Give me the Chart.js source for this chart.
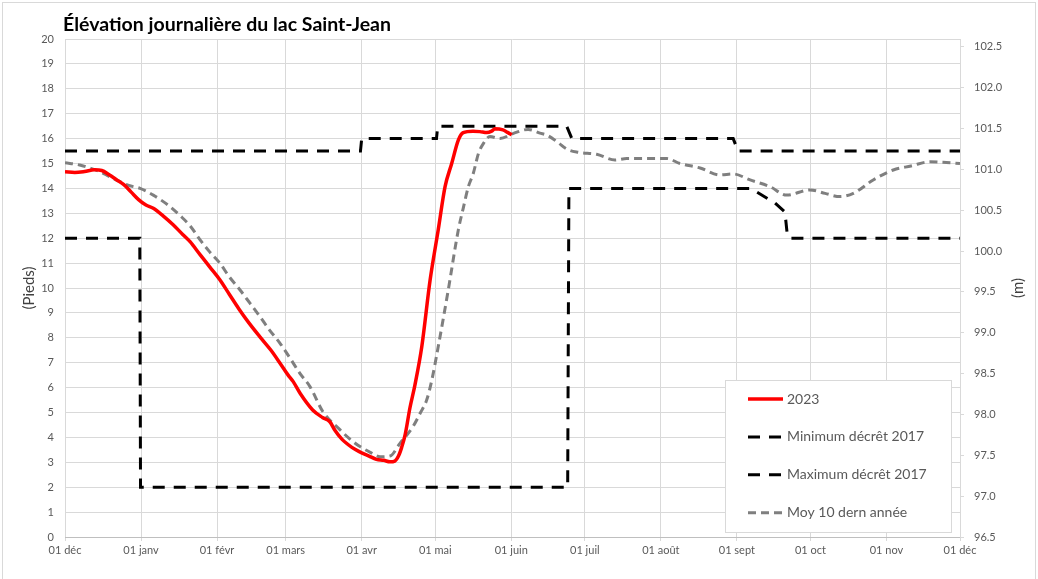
<!DOCTYPE html>
<html lang="fr">
  <head>
    <meta charset="UTF-8" />
    <title>Élévation journalière du lac Saint-Jean</title>
    <script src="https://cdn.jsdelivr.net/npm/chart.js"></script>
    <style>
      body {
        margin: 0;
        background: #ffffff;
      }
      canvas {
        display: block;
      }
    </style>
  </head>
  <body>
    <canvas id="lac" width="1038" height="579"></canvas>

    <script>
      const titre = "Élévation journalière du lac Saint-Jean";

      // axe des x : jours depuis le 1er décembre
      const moisJours = [0, 31, 62, 90, 121, 151, 182, 212, 243, 274, 304, 335, 365];
      const moisEtiquettes = [
        "01 déc", "01 janv", "01 févr", "01 mars", "01 avr", "01 mai", "01 juin",
        "01 juil", "01 août", "01 sept", "01 oct", "01 nov", "01 déc",
      ];

      // axe de droite (m)
      const metresTicks = [96.5, 97, 97.5, 98, 98.5, 99, 99.5, 100, 100.5, 101, 101.5, 102, 102.5];

      // 2023 (pieds)
      const jours2023 = [
        0, 4, 8, 12, 15, 18, 21, 24, 27, 30, 33, 36, 40, 44, 48, 51, 55, 59, 63, 67,
        71, 75, 79.5, 84, 87.7, 91, 93, 96, 101, 105, 108, 110, 113, 117, 120, 124,
        127, 130, 132.5, 134.5, 136, 137.3, 138.7, 140.7, 142.7, 145.5, 148.9, 152.2,
        155, 157.7, 160.4, 162.4, 166.4, 169.2, 172, 174, 175.4, 178.6, 180.5, 182.2,
      ];
      const niveau2023 = [
        14.67, 14.64, 14.68, 14.75, 14.72, 14.55, 14.35, 14.15, 13.85, 13.55, 13.33,
        13.2, 12.9, 12.55, 12.15, 11.86, 11.35, 10.85, 10.35, 9.75, 9.15, 8.6, 8.04,
        7.5, 6.98, 6.5, 6.25, 5.75, 5.1, 4.8, 4.63, 4.3, 3.92, 3.6, 3.43, 3.25, 3.12,
        3.08, 3.02, 3.05, 3.25, 3.6, 4.1, 5.2, 6.1, 7.64, 10.32, 12.33, 14.07, 15.0,
        15.94, 16.24, 16.3, 16.28, 16.24, 16.3, 16.4, 16.35, 16.25, 16.15,
      ];

      // Minimum décrêt 2017
      const joursMin = [0, 30.5, 30.8, 205, 205.5, 279.4, 281.4, 289.6, 293.6, 294.6, 295.8, 365];
      const niveauMin = [12, 12, 2, 2, 14, 14, 13.9, 13.41, 13.05, 12.1, 12, 12];

      // Maximum décrêt 2017
      const joursMax = [0, 120.5, 121, 151.5, 152, 204.6, 206.7, 272.5, 274.5, 365];
      const niveauMax = [15.5, 15.5, 16, 16, 16.5, 16.5, 16, 16, 15.5, 15.5];

      // Moy 10 dern année
      const joursMoy = [
        0, 6, 10, 14.3, 18, 22.4, 26, 30.6, 36, 42.8, 47, 51, 55.1, 59, 63.2, 67, 71.4,
        75.5, 79.5, 83.5, 87.7, 92, 95.8, 99.9, 105.2, 112.2, 116, 120.3, 124.5, 128.5,
        132.5, 136.6, 141.9, 145, 147.5, 149.6, 152.2, 156.3, 160.4, 162.4, 164.5, 166.5,
        168.6, 170.6, 173.3, 177.4, 182.7, 188.9, 193.7, 196.5, 201, 204.6, 209.3, 216.8,
        224.3, 229.1, 237.2, 245.4, 250.8, 259, 267.1, 272.5, 279.4, 287.5, 294.3, 303.8,
        310, 316, 321.5, 329.6, 337.8, 345, 352.8, 358, 365,
      ];
      const niveauMoy = [
        15.03, 14.94, 14.82, 14.67, 14.48, 14.27, 14.12, 14.0, 13.73, 13.27, 12.9, 12.5,
        11.93, 11.45, 10.99, 10.45, 9.92, 9.38, 8.85, 8.3, 7.78, 7.15, 6.57, 6.04, 5.03,
        4.3, 3.95, 3.63, 3.4, 3.22, 3.25, 3.76, 4.43, 5.0, 5.5, 6.3, 7.64, 9.92, 12.33,
        13.2, 14.07, 14.6, 15.4, 15.8, 16.08, 16.0, 16.2, 16.37, 16.22, 16.14, 15.85,
        15.58, 15.45, 15.37, 15.14, 15.2, 15.2, 15.2, 15.0, 14.82, 14.54, 14.58, 14.34,
        14.07, 13.73, 13.94, 13.8, 13.67, 13.8, 14.34, 14.74, 14.9, 15.07, 15.05, 15.0,
      ];

      // 20 pi = 6,096 m au-dessus de 96,5 m
      const metresMin = 96.5;
      const metresMax = 96.5 + 20 * 0.3048;

      const gris = "#595959";
      const grille = "#d9d9d9";
      const police = "Lato, 'Open Sans', sans-serif";

      const points = (xs, ys) => xs.map((x, i) => ({ x: x, y: ys[i] }));

      // cadre, titre et "(m)"
      const habillage = {
        id: "habillage",
        beforeDraw(chart) {
          const c = chart.ctx;
          c.save();
          c.fillStyle = "#ffffff";
          c.fillRect(0, 0, chart.width, chart.height);
          c.strokeStyle = grille;
          c.lineWidth = 1;
          c.strokeRect(2.5, 2.5, chart.width - 5, chart.height + 5);
          c.restore();
        },
        afterDraw(chart) {
          const c = chart.ctx;
          const a = chart.chartArea;
          c.save();
          c.fillStyle = "#000000";
          c.font = "bold 19.5px " + police;
          c.textBaseline = "middle";
          c.fillText(titre, a.left - 2, 25);

          c.translate(1018, (a.top + a.bottom) / 2);
          c.rotate(-Math.PI / 2);
          c.textAlign = "center";
          c.font = "15px " + police;
          c.fillStyle = "#404040";
          c.fillText("(m)", 0, 0);
          c.restore();
        },
      };

      // légende encadrée dans la zone du graphique
      const legendeBoite = {
        id: "legendeBoite",
        afterDraw(chart) {
          const c = chart.ctx;
          const a = chart.chartArea;
          const w = 226, h = 152;
          const x0 = a.right - 9 - w;
          const y0 = a.bottom - 5 - h;
          c.save();
          c.fillStyle = "#ffffff";
          c.fillRect(x0, y0, w, h);
          c.strokeStyle = grille;
          c.lineWidth = 1;
          c.strokeRect(Math.round(x0) + 0.5, Math.round(y0) + 0.5, w, h);
          c.font = "14px " + police;
          c.textBaseline = "middle";
          chart.data.datasets.forEach((ds, i) => {
            const y = y0 + 19 + i * 37.9;
            c.strokeStyle = ds.borderColor;
            c.lineWidth = ds.borderWidth;
            c.setLineDash(ds.borderDash || []);
            c.beginPath();
            c.moveTo(x0 + 23, y);
            c.lineTo(x0 + 58, y);
            c.stroke();
            c.setLineDash([]);
            c.fillStyle = gris;
            c.fillText(ds.label, x0 + 62, y);
          });
          c.restore();
        },
      };

      new Chart(document.getElementById("lac"), {
        type: "line",
        data: {
          datasets: [
            {
              label: "2023",
              data: points(jours2023, niveau2023),
              borderColor: "#ff0000",
              borderWidth: 3.5,
              cubicInterpolationMode: "monotone",
              pointRadius: 0,
            },
            {
              label: "Minimum décrêt 2017",
              data: points(joursMin, niveauMin),
              borderColor: "#000000",
              borderWidth: 3,
              borderDash: [12, 9],
              tension: 0,
              pointRadius: 0,
            },
            {
              label: "Maximum décrêt 2017",
              data: points(joursMax, niveauMax),
              borderColor: "#000000",
              borderWidth: 3,
              borderDash: [12, 9],
              tension: 0,
              pointRadius: 0,
            },
            {
              label: "Moy 10 dern année",
              data: points(joursMoy, niveauMoy),
              borderColor: "#7f7f7f",
              borderWidth: 3,
              borderDash: [8, 5],
              cubicInterpolationMode: "monotone",
              pointRadius: 0,
            },
          ],
        },
        options: {
          responsive: false,
          devicePixelRatio: 1,
          animation: false,
          layout: { padding: { top: 39, left: 0, right: 0, bottom: 0 } },
          plugins: {
            legend: { display: false },
            title: { display: false },
            tooltip: { enabled: false },
          },
          scales: {
            x: {
              type: "linear",
              min: 0,
              max: 365,
              afterBuildTicks: (s) => {
                s.ticks = moisJours.map((v) => ({ value: v }));
              },
              afterFit: (s) => {
                s.height = 42;
              },
              ticks: {
                callback: (v, i) => moisEtiquettes[i],
                color: gris,
                font: { family: police, size: 11 },
                maxRotation: 0,
                autoSkip: false,
                padding: 3,
              },
              grid: { color: grille, tickLength: 4 },
              border: { color: "#bfbfbf" },
            },
            y: {
              position: "left",
              min: 0,
              max: 20,
              afterFit: (s) => {
                s.width = 65;
              },
              ticks: {
                stepSize: 1,
                color: gris,
                font: { family: police, size: 11 },
                padding: 11,
              },
              grid: { color: grille, drawTicks: false },
              border: { display: false },
              title: {
                display: true,
                text: "(Pieds)",
                color: "#404040",
                font: { family: police, size: 15 },
                padding: { top: 20, bottom: 0 },
              },
            },
            y2: {
              position: "right",
              min: metresMin,
              max: metresMax,
              afterBuildTicks: (s) => {
                s.ticks = metresTicks.map((v) => ({ value: v }));
              },
              afterFit: (s) => {
                s.width = 78;
              },
              ticks: {
                callback: (v) => v.toFixed(1),
                color: gris,
                font: { family: police, size: 11 },
                padding: 10,
              },
              grid: { drawOnChartArea: false, color: grille, tickLength: 4 },
              border: { color: grille },
            },
          },
        },
        plugins: [habillage, legendeBoite],
      });
    </script>
  </body>
</html>
